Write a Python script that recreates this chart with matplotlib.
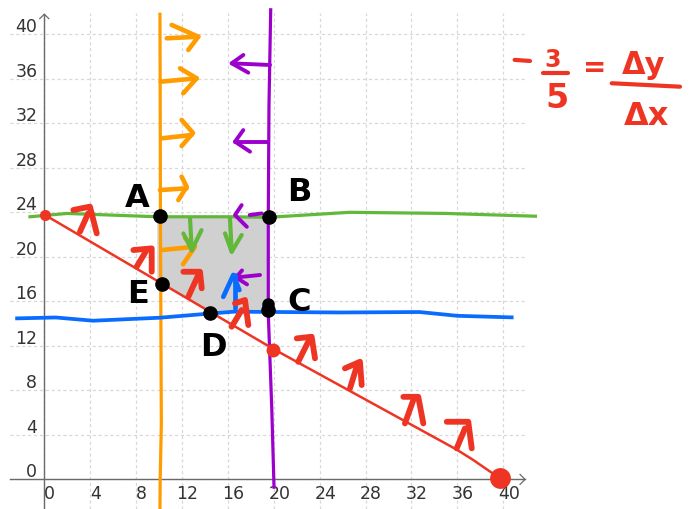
# hand-drawn feasible region sketch on a grid
import matplotlib
matplotlib.use("Agg")
from matplotlib import pyplot as plt

# ---- data ----
ticks = [0, 4, 8, 12, 16, 20, 24, 28, 32, 36, 40]

red_x = [0.06, 10.0, 20.0, 35.9, 37.3, 39.7]
red_y = [23.76, 17.75, 11.7, 2.7, 1.8, 0.1]

orange_x = [10.08, 10.1, 10.12, 10.17, 10.2, 10.1, 10.08]
orange_y = [41.8, 35.0, 24.0, 12.0, 5.0, 0.0, -2.7]

purple_x = [19.73, 19.58, 19.52, 19.52, 19.82, 20.02]
purple_y = [42.2, 33.5, 23.6, 14.9, 6.5, -0.7]

green_x = [-1.25, 2.0, 9.8, 16.5, 19.5, 26.6, 35.0, 42.8]
green_y = [23.6, 23.9, 23.6, 23.6, 23.55, 24.0, 23.9, 23.65]

blue_x = [-2.37, 1.0, 4.25, 10.08, 14.4, 16.5, 25.8, 32.7, 36.0, 40.73]
blue_y = [14.47, 14.55, 14.26, 14.53, 14.9, 15.07, 15.0, 15.04, 14.7, 14.56]

region_x = [9.85, 19.5, 19.5, 14.6, 10.2, 9.85]
region_y = [23.7, 23.6, 15.1, 15.0, 17.6, 17.8]

# arrows: shaft x0,y0,x1,y1 then head h1x,h1y,tipx,tipy,h2x,h2y
orange_arrows = [
    (10.67, 39.64, 13.42, 39.78, 11.10, 40.84, 13.42, 39.78, 12.55, 38.59),
    (10.14, 35.74, 13.28, 36.04, 11.83, 36.94, 13.28, 36.04, 12.11, 34.70),
    (10.23, 30.65, 12.84, 30.95, 11.97, 32.30, 12.96, 31.13, 11.97, 29.96),
    (10.08, 26.00, 12.41, 26.16, 11.97, 27.20, 12.41, 26.30, 11.68, 25.10),
    (10.23, 20.61, 13.13, 20.91, 12.26, 21.69, 13.13, 20.91, 12.09, 19.33),
]
purple_arrows = [
    (19.67, 37.24, 16.33, 37.39, 17.35, 38.14, 16.33, 37.39, 17.78, 36.55),
    (19.52, 30.35, 16.62, 30.35, 17.34, 31.39, 16.62, 30.35, 17.93, 29.45),
    (18.95, 23.90, 17.90, 23.76, 17.20, 24.65, 16.62, 23.76, 17.65, 22.70),
    (18.80, 18.37, 16.73, 18.15, 17.23, 18.78, 16.71, 18.15, 17.67, 17.52),
]
green_arrows = [
    (12.70, 23.46, 12.85, 20.60, 12.12, 22.10, 12.85, 20.60, 13.70, 22.40),
    (16.18, 23.46, 16.33, 20.46, 15.75, 22.11, 16.33, 20.46, 17.20, 21.96),
]
blue_arrows = [
    (16.62, 15.37, 16.62, 18.37, 15.60, 16.41, 16.47, 18.37, 17.00, 17.02),
]
red_arrows = [
    (3.11, 22.26, 3.83, 23.92, 2.53, 24.21, 3.98, 24.51, 4.57, 22.11),
    (8.05, 19.11, 8.92, 20.61, 7.76, 20.61, 9.36, 20.76, 9.36, 18.66),
    (12.55, 16.41, 13.42, 18.37, 12.12, 18.66, 13.57, 18.66, 13.72, 17.17),
    (16.33, 13.72, 17.20, 15.22, 16.62, 15.82, 17.49, 16.12, 17.78, 13.87),
    (22.13, 10.57, 23.00, 12.37, 22.00, 12.67, 23.30, 12.82, 23.59, 10.88),
    (26.64, 8.18, 27.22, 10.12, 26.20, 9.98, 27.51, 10.57, 27.66, 8.48),
    (31.43, 5.03, 32.16, 7.13, 31.29, 7.42, 32.59, 7.42, 33.03, 5.03),
    (35.94, 2.79, 36.66, 4.58, 35.07, 5.18, 36.95, 5.18, 37.25, 2.79),
]

corner_names = ["A", "B", "C", "D", "E"]
corner_x = [10.08, 19.6, 19.47, 14.44, 10.28]
corner_y = [23.67, 23.55, 15.2, 14.92, 17.6]
corner_label_x = [8.07, 22.2, 22.2, 14.7, 8.17]
corner_label_y = [25.2, 25.8, 15.9, 11.85, 16.6]

red_dot_x = [0.06, 19.96, 39.71]
red_dot_y = [23.76, 11.6, 0.09]
red_dot_size = [8, 10, 15]

RED = "#ee3524"
ORANGE = "#ff9c00"
PURPLE = "#9c00cc"
GREEN = "#62b83a"
BLUE = "#0a6cff"


def draw_arrow(ax, a, color, lw):
    ax.plot([a[0], a[2]], [a[1], a[3]], color=color, lw=lw,
            solid_capstyle="round", zorder=5)
    ax.plot([a[4], a[6], a[8]], [a[5], a[7], a[9]], color=color, lw=lw,
            solid_capstyle="round", solid_joinstyle="round", zorder=5)


fig = plt.figure(figsize=(6.94, 5.09), dpi=100)
ax = fig.add_axes([0, 0, 1, 1])
ax.set_xlim(-3.86, 56.62)
ax.set_ylim(-2.66, 43.08)
ax.axis("off")

# grid
for v in ticks:
    ax.plot([v, v], [-2.66, 41.9], color="#d8d8d8", lw=0.9,
            linestyle=(0, (2.5, 2.2)), zorder=0)
    ax.plot([-3.0, 41.9], [v, v], color="#d8d8d8", lw=0.9,
            linestyle=(0, (2.5, 2.2)), zorder=0)

# axes with open arrow heads
ax.plot([0, 0], [-2.66, 41.8], color="#6a6a6a", lw=1.0, zorder=1)
ax.plot([-0.39, 0, 0.39], [41.41, 41.8, 41.41], color="#6a6a6a", lw=0.9, zorder=1)
ax.plot([-3.0, 41.9], [0, 0], color="#6a6a6a", lw=1.0, zorder=1)
ax.plot([41.46, 41.9, 41.46], [0.45, 0, -0.45], color="#6a6a6a", lw=0.9, zorder=1)

for v in ticks:
    ax.annotate(str(v), (v, 0), xytext=(4, -10.5), textcoords="offset points",
                ha="center", va="center", fontsize=12.5, color="#333333",
                family="DejaVu Sans")
    ax.annotate(str(v), (0, v), xytext=(-5, 5), textcoords="offset points",
                ha="right", va="center", fontsize=12.5, color="#333333",
                family="DejaVu Sans")

# shaded region
ax.fill(region_x, region_y, color="#d0d0d0", lw=0, zorder=1)

# constraint lines
ax.plot(orange_x, orange_y, color=ORANGE, lw=2.3, zorder=3)
ax.plot(purple_x, purple_y, color=PURPLE, lw=2.3, zorder=3)
ax.plot(green_x, green_y, color=GREEN, lw=2.3, zorder=3)
ax.plot(blue_x, blue_y, color=BLUE, lw=2.7, zorder=3)
ax.plot(red_x, red_y, color=RED, lw=1.8, zorder=3)

for a in orange_arrows:
    draw_arrow(ax, a, ORANGE, 3.3)
for a in purple_arrows:
    draw_arrow(ax, a, PURPLE, 2.8)
for a in green_arrows:
    draw_arrow(ax, a, GREEN, 3.0)
for a in blue_arrows:
    draw_arrow(ax, a, BLUE, 3.4)
for a in red_arrows:
    draw_arrow(ax, a, RED, 4.2)

for x, y, s in zip(red_dot_x, red_dot_y, red_dot_size):
    ax.plot(x, y, "o", color=RED, markersize=s, markeredgewidth=0, zorder=6)

# corner points and their names
ax.plot(corner_x, corner_y, "o", color="black", markersize=9.5, zorder=7)
ax.plot(corner_x[2], corner_y[2] + 0.55, "o", color="black", markersize=8, zorder=7)
for name, x, y in zip(corner_names, corner_label_x, corner_label_y):
    ax.text(x, y, name, fontsize=23, fontweight="bold", ha="center",
            va="center", color="black", zorder=8)

# slope note
ax.plot([40.99, 42.33], [37.7, 37.6], color=RED, lw=3.0, solid_capstyle="round")
ax.text(44.29, 37.69, "3", fontsize=17, fontweight="bold", color=RED,
        ha="center", va="center")
ax.plot([43.49, 45.67], [36.5, 36.5], color=RED, lw=3.0, solid_capstyle="round")
ax.text(44.72, 34.23, "5", fontsize=24, fontweight="bold", color=RED,
        ha="center", va="center")
ax.text(47.99, 36.97, "=", fontsize=20, fontweight="bold", color=RED,
        ha="center", va="center")
ax.text(52.26, 37.15, "Δy", fontsize=22, fontweight="bold", color=RED,
        ha="center", va="center")
ax.plot([49.45, 55.4], [35.6, 35.29], color=RED, lw=3.0, solid_capstyle="round")
ax.text(52.5, 32.65, "Δx", fontsize=23, fontweight="bold", color=RED,
        ha="center", va="center")

plt.savefig("out.png", dpi=100)
